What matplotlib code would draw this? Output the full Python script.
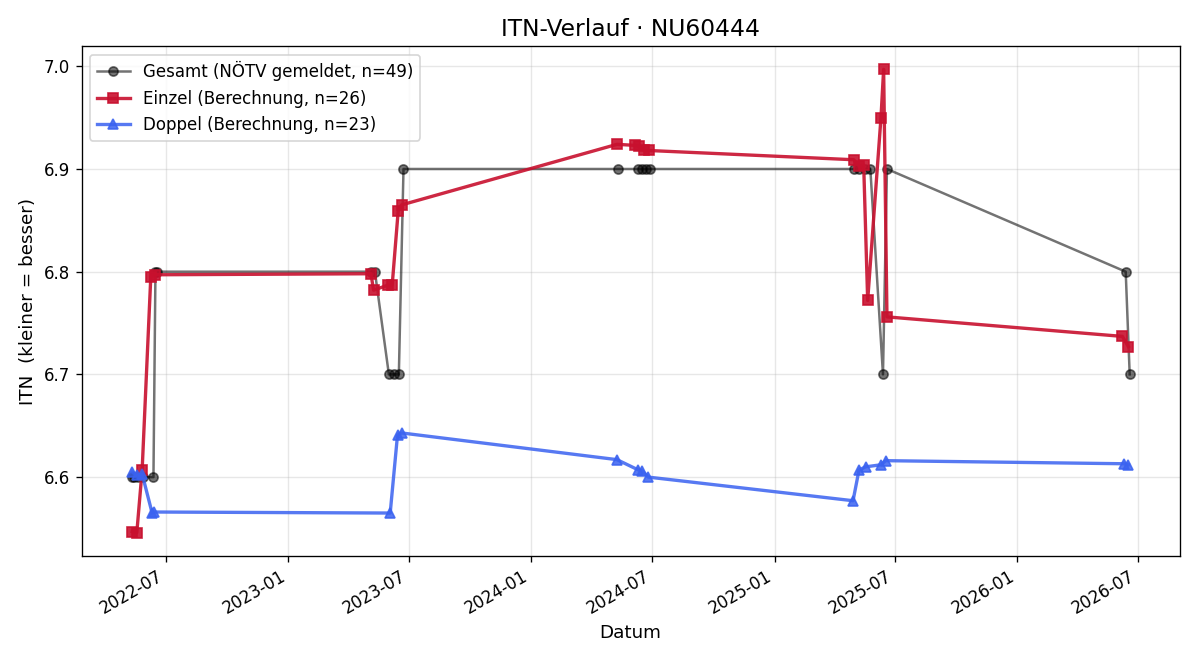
import matplotlib
matplotlib.use("Agg")
import matplotlib.pyplot as plt
import matplotlib.dates as mdates
import pandas as pd

gesamt_dates = ["2022-05-10", "2022-05-14", "2022-05-20", "2022-05-28", "2022-06-12", "2022-06-15", "2022-06-18",
                "2023-05-05", "2023-05-11", "2023-06-01", "2023-06-08", "2023-06-16", "2023-06-23",
                "2024-05-11", "2024-06-09", "2024-06-15", "2024-06-21", "2024-06-28",
                "2025-05-01", "2025-05-08", "2025-05-17", "2025-05-25", "2025-06-13", "2025-06-19",
                "2026-06-13", "2026-06-19"]
gesamt_vals = [6.6, 6.6, 6.6, 6.6, 6.6, 6.8, 6.8,
               6.8, 6.8, 6.7, 6.7, 6.7, 6.9,
               6.9, 6.9, 6.9, 6.9, 6.9,
               6.9, 6.9, 6.9, 6.9, 6.7, 6.9,
               6.8, 6.7]

einzel_dates = ["2022-05-11", "2022-05-18", "2022-05-26", "2022-06-08", "2022-06-14",
                "2023-05-05", "2023-05-09", "2023-05-31", "2023-06-06", "2023-06-15", "2023-06-20",
                "2024-05-09", "2024-06-05", "2024-06-11", "2024-06-19", "2024-06-26",
                "2025-04-30", "2025-05-08", "2025-05-15", "2025-05-21", "2025-06-10", "2025-06-14", "2025-06-19",
                "2026-06-08", "2026-06-17"]
einzel_vals = [6.547, 6.546, 6.607, 6.795, 6.797,
               6.798, 6.782, 6.787, 6.787, 6.859, 6.865,
               6.924, 6.923, 6.922, 6.918, 6.918,
               6.909, 6.903, 6.904, 6.772, 6.950, 6.997, 6.756,
               6.737, 6.727]

doppel_dates = ["2022-05-11", "2022-05-18", "2022-05-26", "2022-06-10", "2022-06-13",
                "2023-06-03", "2023-06-14", "2023-06-20",
                "2024-05-09", "2024-06-10", "2024-06-16", "2024-06-25",
                "2025-04-29", "2025-05-08", "2025-05-18", "2025-06-10", "2025-06-17",
                "2026-06-10", "2026-06-17"]
doppel_vals = [6.605, 6.602, 6.603, 6.565, 6.566,
               6.565, 6.641, 6.643,
               6.617, 6.607, 6.606, 6.600,
               6.577, 6.607, 6.610, 6.612, 6.616,
               6.613, 6.612]

fig, ax = plt.subplots(figsize=(10, 5.5), dpi=120)
ax.plot(pd.to_datetime(gesamt_dates), gesamt_vals, color="black", alpha=0.55, marker="o",
        markersize=5.5, linewidth=1.5, label="Gesamt (NÖTV gemeldet, n=49)")
ax.plot(pd.to_datetime(einzel_dates), einzel_vals, color="#C8102E", alpha=0.9, marker="s",
        markersize=6, linewidth=2, label="Einzel (Berechnung, n=26)")
ax.plot(pd.to_datetime(doppel_dates), doppel_vals, color="#3A62F0", alpha=0.85, marker="^",
        markersize=6, linewidth=2, label="Doppel (Berechnung, n=23)")

ax.xaxis.set_major_locator(mdates.MonthLocator(bymonth=[1, 7]))
ax.xaxis.set_major_formatter(mdates.DateFormatter("%Y-%m"))
ax.grid(True, alpha=0.3)
ax.set_title("ITN-Verlauf · NU60444", fontsize=14)
ax.set_xlabel("Datum", fontsize=11)
ax.set_ylabel("ITN  (kleiner = besser)", fontsize=11)
ax.legend(loc="upper left", fontsize=10)
fig.autofmt_xdate()
fig.subplots_adjust(left=0.068, right=0.983, top=0.93, bottom=0.158)
fig.savefig("out.png", dpi=120)
